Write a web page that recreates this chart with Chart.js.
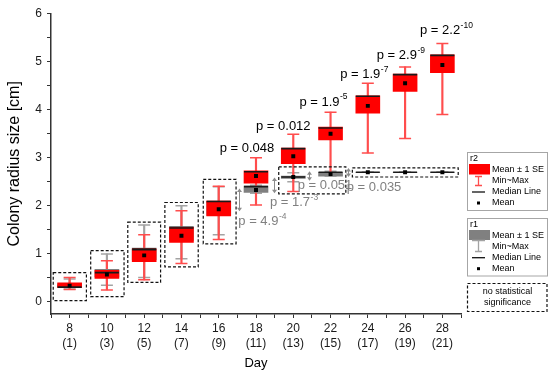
<!DOCTYPE html>
<html>
<head>
<meta charset="utf-8">
<script src="https://cdn.jsdelivr.net/npm/chart.js@4.4.1/dist/chart.umd.min.js"></script>
<style>
html, body { margin: 0; padding: 0; background: #fff; }
#wrap { width: 550px; height: 378px; position: relative; }
</style>
</head>
<body>
<div id="wrap"><canvas id="lienzo"></canvas></div>
<script>
// x categories (day, and the bracket label below it)
var days   = [8, 10, 12, 14, 16, 18, 20, 22, 24, 26, 28];
var daySub = ['(1)', '(3)', '(5)', '(7)', '(9)', '(11)', '(13)', '(15)', '(17)', '(19)', '(21)'];
var yTicks = [0, 1, 2, 3, 4, 5, 6];

// r2 (red)
var r2Min    = [0.26, 0.25, 0.46, 0.80, 1.30, 2.02, 2.30, 2.66, 3.10, 3.40, 3.90];
var r2BoxLo  = [0.30, 0.49, 0.84, 1.24, 1.79, 2.47, 2.88, 3.37, 3.93, 4.38, 4.77];
var r2BoxHi  = [0.40, 0.66, 1.10, 1.55, 2.10, 2.73, 3.20, 3.64, 4.29, 4.74, 5.14];
var r2Median = [0.31, 0.61, 1.09, 1.54, 2.09, 2.71, 3.19, 3.62, 4.28, 4.73, 5.13];
var r2Mean   = [0.34, 0.57, 0.97, 1.38, 1.93, 2.62, 3.03, 3.50, 4.08, 4.55, 4.93];
var r2Max    = [0.51, 0.86, 1.40, 1.90, 2.41, 3.00, 3.49, 3.95, 4.55, 4.89, 5.38];

// r1 (grey)
var r1Min    = [0.27, 0.35, 0.51, 0.90, 1.40, 2.26, 2.50, 2.62, 2.70, 2.70, 2.70];
var r1BoxLo  = [0.31, 0.52, 0.88, 1.28, 1.80, 2.28, 2.57, 2.62, 2.70, 2.70, 2.70];
var r1BoxHi  = [0.38, 0.68, 1.12, 1.57, 2.10, 2.41, 2.62, 2.70, 2.70, 2.70, 2.70];
var r1Median = [0.33, 0.63, 1.10, 1.55, 2.08, 2.40, 2.60, 2.70, 2.70, 2.70, 2.70];
var r1Mean   = [0.34, 0.58, 1.00, 1.42, 1.95, 2.33, 2.60, 2.66, 2.70, 2.70, 2.70];
var r1Max    = [0.48, 1.00, 1.60, 2.00, 2.40, 2.43, 2.69, 2.72, 2.70, 2.70, 2.70];

// p values, r2 (black) and r1 (grey)
var pR2Val = ['0.048', '0.012', '1.9', '1.9', '2.9', '2.2'];
var pR2Exp = ['', '', '-5', '-7', '-9', '-10'];
var pR1Val = ['4.9', '1.7', '0.051', '0.035'];
var pR1Exp = ['-4', '-3', '', ''];

// where the annotations sit, in axis units (day, cm)
var pR2At = [[16.05, 3.20], [18.0, 3.66], [20.33, 4.16], [22.52, 4.73], [24.48, 5.12], [26.8, 5.64]];
var pR1At = [[17.05, 1.68], [18.75, 2.07], [20.24, 2.43], [22.87, 2.39]];
var arrowsAt = [[17.09, 2.36, 1.89], [18.97, 2.59, 2.26], [20.85, 2.72, 2.52], [22.94, 2.79, 2.60]];
var nsBoxes = [
	[7.12, 8.90, 0.03, 0.61],
	[9.13, 10.92, 0.11, 1.07],
	[11.12, 12.88, 0.41, 1.66],
	[13.11, 14.90, 0.73, 2.07],
	[15.17, 16.93, 1.21, 2.55],
	[19.22, 22.82, 2.25, 2.81],
	[23.17, 28.85, 2.60, 2.79]
];

var FONT = '"Liberation Sans", Arial, sans-serif';
var RED = '#ff0000', RED_W = '#ff4d4d', GREY = '#808080', GREY_W = '#a3a3a3';

function pts(ys) { return days.map(function(d, i){ return {x: d, y: ys[i]}; }); }
function rng(lo, hi) { return days.map(function(d, i){ return {x: d, y: [lo[i], hi[i]]}; }); }

function pText(ctx, x, y, base, exp, color) {
	ctx.fillStyle = color;
	ctx.textAlign = 'left';
	ctx.textBaseline = 'middle';
	ctx.font = '13px ' + FONT;
	var s = 'p = ' + base;
	ctx.fillText(s, x, y);
	if (exp) {
		var w = ctx.measureText(s).width;
		ctx.font = '8.5px ' + FONT;
		ctx.fillText(exp, x + w + 0.5, y - 5);
	}
}

const extras = {
	id: 'extras',
	afterDatasetsDraw: function(chart) {
		const {ctx} = chart;
		const xs = chart.scales.x, ys = chart.scales.y;
		ctx.save();

		// dashed "no statistical significance" boxes
		ctx.strokeStyle = '#111';
		ctx.lineWidth = 1.2;
		ctx.setLineDash([3, 2]);
		nsBoxes.forEach(function(b){
			var x0 = xs.getPixelForValue(b[0]), x1 = xs.getPixelForValue(b[1]);
			var y0 = ys.getPixelForValue(b[3]), y1 = ys.getPixelForValue(b[2]);
			ctx.strokeRect(x0, y0, x1 - x0, y1 - y0);
		});
		ctx.setLineDash([]);

		// grey double arrows
		ctx.strokeStyle = '#8c8c8c';
		ctx.fillStyle = '#8c8c8c';
		ctx.lineWidth = 1;
		arrowsAt.forEach(function(a){
			var x = Math.round(xs.getPixelForValue(a[0])) + 0.5;
			var yt = ys.getPixelForValue(a[1]), yb = ys.getPixelForValue(a[2]);
			ctx.beginPath(); ctx.moveTo(x, yt + 2); ctx.lineTo(x, yb - 2); ctx.stroke();
			ctx.beginPath(); ctx.moveTo(x, yt); ctx.lineTo(x - 2.5, yt + 3.5); ctx.lineTo(x + 2.5, yt + 3.5); ctx.closePath(); ctx.fill();
			ctx.beginPath(); ctx.moveTo(x, yb); ctx.lineTo(x - 2.5, yb - 3.5); ctx.lineTo(x + 2.5, yb - 3.5); ctx.closePath(); ctx.fill();
		});

		// p values
		pR2Val.forEach(function(v, i){
			pText(ctx, xs.getPixelForValue(pR2At[i][0]), ys.getPixelForValue(pR2At[i][1]), v, pR2Exp[i], '#000');
		});
		pR1Val.forEach(function(v, i){
			pText(ctx, xs.getPixelForValue(pR1At[i][0]), ys.getPixelForValue(pR1At[i][1]), v, pR1Exp[i], '#808080');
		});
		ctx.restore();
	},
	afterDraw: function(chart) {
		const {ctx} = chart;
		ctx.save();
		ctx.textAlign = 'left';
		ctx.textBaseline = 'middle';
		ctx.font = '9px ' + FONT;
		var lx = 467.5, tx = 492;

		// r2 legend
		ctx.strokeStyle = '#a6a6a6'; ctx.lineWidth = 1;
		ctx.strokeRect(lx, 152.5, 80, 58);
		ctx.fillStyle = '#000';
		ctx.fillText('r2', 470, 158.5);
		ctx.fillStyle = RED; ctx.fillRect(469, 164, 21, 10.5);
		ctx.strokeStyle = RED_W; ctx.lineWidth = 1.3;
		ctx.beginPath();
		ctx.moveTo(478.5, 176.5); ctx.lineTo(478.5, 185.5);
		ctx.moveTo(475, 176.5); ctx.lineTo(482, 176.5);
		ctx.moveTo(475, 185.5); ctx.lineTo(482, 185.5);
		ctx.stroke();
		ctx.strokeStyle = '#111'; ctx.lineWidth = 1.3;
		ctx.beginPath(); ctx.moveTo(472, 192); ctx.lineTo(485, 192); ctx.stroke();
		ctx.fillStyle = '#000'; ctx.fillRect(477, 201.5, 3, 3);
		ctx.fillText('Mean \u00b1 1 SE', tx, 169.3);
		ctx.fillText('Min~Max', tx, 180.5);
		ctx.fillText('Median Line', tx, 192);
		ctx.fillText('Mean', tx, 203);

		// r1 legend
		ctx.strokeStyle = '#a6a6a6'; ctx.lineWidth = 1;
		ctx.strokeRect(lx, 218.5, 80, 57.5);
		ctx.fillText('r1', 470, 224.5);
		ctx.fillStyle = GREY; ctx.fillRect(469, 230, 21, 10);
		ctx.strokeStyle = GREY_W; ctx.lineWidth = 1.3;
		ctx.beginPath();
		ctx.moveTo(478.5, 241); ctx.lineTo(478.5, 251.5);
		ctx.moveTo(472, 240.5); ctx.lineTo(485, 240.5);
		ctx.moveTo(475, 251.5); ctx.lineTo(482, 251.5);
		ctx.stroke();
		ctx.strokeStyle = '#111'; ctx.lineWidth = 1.3;
		ctx.beginPath(); ctx.moveTo(472, 257.7); ctx.lineTo(485, 257.7); ctx.stroke();
		ctx.fillStyle = '#000'; ctx.fillRect(477, 267.2, 3, 3);
		ctx.fillText('Mean \u00b1 1 SE', tx, 235.3);
		ctx.fillText('Min~Max', tx, 246.3);
		ctx.fillText('Median Line', tx, 257.7);
		ctx.fillText('Mean', tx, 268.7);

		// no significance legend
		ctx.strokeStyle = '#111'; ctx.lineWidth = 1.2;
		ctx.setLineDash([3, 2]);
		ctx.strokeRect(lx, 283.5, 79.5, 28);
		ctx.setLineDash([]);
		ctx.textAlign = 'center';
		ctx.fillText('no statistical', 507.5, 291.7);
		ctx.fillText('significance', 507.5, 303);
		ctx.restore();
	}
};

// day ticks: every labelled day plus the odd days between them
var xTickVals = [days[0] - 1];
days.forEach(function(d){ xTickVals.push(d, d + 1); });
// cm ticks: integers plus halves
var yTickVals = [];
yTicks.forEach(function(v, i){ yTickVals.push(v); if (i < yTicks.length - 1) yTickVals.push(v + 0.5); });

var bar = function(label, lo, hi, color, thick, order) {
	return { type: 'bar', label: label, data: rng(lo, hi), backgroundColor: color, borderWidth: 0,
		barThickness: thick, grouped: false, order: order };
};
var dots = function(label, data, style, radius, color, width, order) {
	return { type: 'scatter', label: label, data: data, pointStyle: style, pointRadius: radius,
		pointBackgroundColor: color, pointBorderColor: color, pointBorderWidth: width, order: order };
};

new Chart(document.getElementById('lienzo'), {
	type: 'bar',
	data: {
		datasets: [
			dots('r2 mean', pts(r2Mean), 'rect', 2.8, '#000', 0, 1),
			dots('r2 median', pts(r2Median), 'line', 12, '#1a1a1a', 1.6, 2),
			bar('r2 box', r2BoxLo, r2BoxHi, RED, 24, 3),
			dots('r1 mean', pts(r1Mean), 'rect', 2.8, '#000', 0, 4),
			dots('r1 median', pts(r1Median), 'line', 12, '#1a1a1a', 1.6, 5),
			bar('r1 box', r1BoxLo, r1BoxHi, GREY, 24, 6),
			bar('r2 whisker', r2Min, r2Max, RED_W, 1.5, 7),
			dots('r2 caps', pts(r2Min).concat(pts(r2Max)), 'line', 6, RED_W, 1.5, 8),
			bar('r1 whisker', r1Min, r1Max, GREY_W, 1.5, 9),
			dots('r1 caps', pts(r1Min).concat(pts(r1Max)), 'line', 6, GREY_W, 1.5, 10)
		]
	},
	options: {
		responsive: true,
		maintainAspectRatio: false,
		animation: false,
		events: [],
		layout: { padding: { top: 9.5, right: 89, bottom: 0, left: 0 } },
		plugins: { legend: { display: false }, tooltip: { enabled: false } },
		scales: {
			x: {
				type: 'linear', min: 7, max: 29, offset: false,
				afterBuildTicks: function(axis){ axis.ticks = xTickVals.map(function(v){ return {value: v}; }); },
				afterFit: function(s){ s.height = 64; s.paddingLeft = 0; s.paddingRight = 0; },
				ticks: {
					autoSkip: false, maxRotation: 0, padding: 3, color: '#1a1a1a',
					font: { family: FONT, size: 12, lineHeight: 1.25 },
					callback: function(v){ var i = days.indexOf(v); return i < 0 ? '' : [String(v), daySub[i]]; }
				},
				grid: { offset: false, drawOnChartArea: false, drawTicks: true, tickLength: 4, color: '#333', lineWidth: 1 },
				border: { display: true, color: '#333', width: 1.5 },
				title: { display: true, text: 'Day', color: '#000', font: { family: FONT, size: 13 }, padding: { top: 0, bottom: 7 } }
			},
			y: {
				min: -0.25, max: 6,
				afterBuildTicks: function(axis){ axis.ticks = yTickVals.map(function(v){ return {value: v}; }); },
				afterFit: function(s){ s.width = 51; s.paddingTop = 0; s.paddingBottom = 0; },
				ticks: {
					padding: 5, color: '#1a1a1a', font: { family: FONT, size: 12 },
					callback: function(v){ return yTicks.indexOf(v) < 0 ? '' : String(v); }
				},
				grid: { drawOnChartArea: false, drawTicks: true, tickLength: 4, color: '#333', lineWidth: 1 },
				border: { display: true, color: '#333', width: 1.5 },
				title: { display: true, text: 'Colony radius size [cm]', color: '#000', font: { family: FONT, size: 16 }, padding: { top: 5, bottom: 0 } }
			}
		}
	},
	plugins: [extras]
});
</script>
</body>
</html>
